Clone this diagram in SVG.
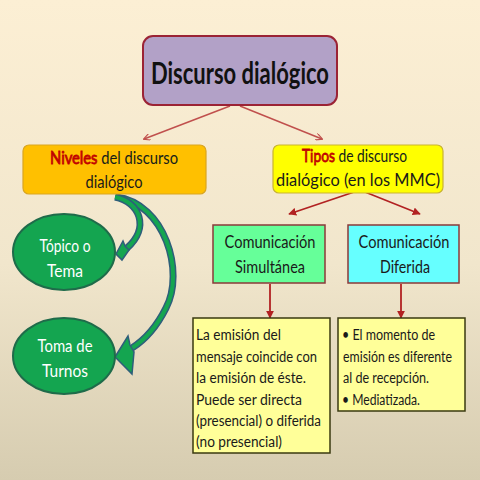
<svg xmlns="http://www.w3.org/2000/svg" width="480" height="480" viewBox="0 0 480 480">
<defs>
<linearGradient id="bg" x1="0" y1="0" x2="0" y2="1">
<stop offset="0" stop-color="#fcefd4"/>
<stop offset="0.55" stop-color="#f1e6cc"/>
<stop offset="1" stop-color="#d6ccb0"/>
</linearGradient>
<linearGradient id="fNiv" gradientUnits="userSpaceOnUse" x1="50" y1="0" x2="178" y2="0">
<stop offset="0.375" stop-color="#c00000"/>
<stop offset="0.375" stop-color="#1a1a1a"/>
</linearGradient>
<linearGradient id="sNiv" gradientUnits="userSpaceOnUse" x1="50" y1="0" x2="178" y2="0">
<stop offset="0.375" stop-color="#c00000" stop-opacity="1"/>
<stop offset="0.375" stop-color="#c00000" stop-opacity="0"/>
</linearGradient>
<linearGradient id="fTip" gradientUnits="userSpaceOnUse" x1="302" y1="0" x2="407" y2="0">
<stop offset="0.32" stop-color="#c00000"/>
<stop offset="0.32" stop-color="#1a1a1a"/>
</linearGradient>
<linearGradient id="sTip" gradientUnits="userSpaceOnUse" x1="302" y1="0" x2="407" y2="0">
<stop offset="0.32" stop-color="#c00000" stop-opacity="1"/>
<stop offset="0.32" stop-color="#c00000" stop-opacity="0"/>
</linearGradient>
<marker id="ah" viewBox="0 0 10 10" refX="9" refY="5" markerWidth="7" markerHeight="7" orient="auto" markerUnits="userSpaceOnUse">
<path d="M0,0 L10,5 L0,10" fill="none" stroke="#c0504d" stroke-width="1.6"/>
</marker>
<marker id="ah2" viewBox="0 0 10 10" refX="9" refY="5" markerWidth="8" markerHeight="8" orient="auto" markerUnits="userSpaceOnUse">
<path d="M0,0 L10,5 L0,10 z" fill="#b22222"/>
</marker>
<style>
text{font-family:Lato,"Open Sans","Liberation Sans",sans-serif;}
.mid{text-anchor:middle;}
.t15{font-size:18px;fill:#1a1a1a;}
.t14{font-size:15.5px;fill:#1a1a1a;}
.w{font-size:18px;fill:#ffffff;text-anchor:middle;}
.ell{fill:#14a550;stroke:#1f6b4a;stroke-width:2;}
.note{fill:#ffff99;stroke:#3a3a10;stroke-width:1.5;}
.c1{stroke:#c0504d;stroke-width:1.5;fill:none;}
.c2{stroke:#b22222;stroke-width:1.8;fill:none;}
.ca{stroke:#2e5e7a;stroke-width:7;fill:none;stroke-linecap:butt;}
.cb{stroke:#14a550;stroke-width:4;fill:none;stroke-linecap:butt;}
.head{fill:#14a550;stroke:#2e5e7a;stroke-width:1.5;stroke-linejoin:miter;}
</style>
</defs>
<rect width="480" height="480" fill="url(#bg)"/>

<g id="connectors">
<line class="c1" x1="230" y1="106" x2="144" y2="139" marker-end="url(#ah)"/>
<line class="c1" x1="240" y1="106" x2="322" y2="139" marker-end="url(#ah)"/>
<line class="c2" x1="360" y1="190" x2="289" y2="214" marker-end="url(#ah2)"/>
<line class="c2" x1="360" y1="190" x2="420" y2="214" marker-end="url(#ah2)"/>
<line class="c2" x1="270" y1="284" x2="270" y2="318" marker-end="url(#ah2)"/>
<line class="c2" x1="401" y1="284" x2="401" y2="318" marker-end="url(#ah2)"/>
<path class="ca" d="M116,197 C165,203 185,272 166,308 C156,328 143,341 132,348"/>
<path class="cb" d="M116,197 C165,203 185,272 166,308 C156,328 143,341 132,348"/>
<polygon class="head" points="115,357 128,336 130,345 134,352 132,374"/>
<path class="ca" d="M115,197 C140,202 150,228 127,248"/>
<path class="cb" d="M115,197 C140,202 150,228 127,248"/>
<polygon class="head" points="116,254 123,241 125,246 129,250 122,260"/>
</g>

<g id="title">
<rect x="143" y="36" width="194" height="69" rx="10" fill="#b2a1c7" stroke="#9b2335" stroke-width="2"/>
<text x="240" y="84" class="mid" font-size="31" font-weight="bold" fill="#111" textLength="178" lengthAdjust="spacingAndGlyphs">Discurso dialógico</text>
</g>

<g id="niveles">
<rect x="23" y="145" width="183" height="49" rx="6" fill="#ffc000" stroke="#d9a520" stroke-width="1.2"/>
<text x="50" y="164" font-size="18" fill="url(#fNiv)" stroke="url(#sNiv)" stroke-width="0.8" textLength="128" lengthAdjust="spacingAndGlyphs">Niveles del discurso</text>
<text x="114" y="188" class="mid t15" textLength="57" lengthAdjust="spacingAndGlyphs">dialógico</text>
</g>

<g id="tipos">
<rect x="273" y="145" width="170" height="48" rx="6" fill="#ffff00" stroke="#c9b430" stroke-width="1.2"/>
<text x="302" y="162" font-size="18" fill="url(#fTip)" stroke="url(#sTip)" stroke-width="0.8" textLength="105" lengthAdjust="spacingAndGlyphs">Tipos de discurso</text>
<text x="358" y="186" class="mid t15" textLength="164" lengthAdjust="spacingAndGlyphs">dialógico (en los MMC)</text>
</g>

<g id="simultanea">
<rect x="213" y="225" width="112" height="58" fill="#66ff99" stroke="#8b3a3a" stroke-width="1.5"/>
<text x="270" y="248" class="mid t15" textLength="91" lengthAdjust="spacingAndGlyphs">Comunicación</text>
<text x="270" y="273" class="mid t15" textLength="70" lengthAdjust="spacingAndGlyphs">Simultánea</text>
</g>

<g id="diferida">
<rect x="348" y="225" width="111" height="58" fill="#66ffff" stroke="#8b3a3a" stroke-width="1.5"/>
<text x="404" y="248" class="mid t15" textLength="91" lengthAdjust="spacingAndGlyphs">Comunicación</text>
<text x="405" y="273" class="mid t15" textLength="50" lengthAdjust="spacingAndGlyphs">Diferida</text>
</g>

<g id="nota1">
<rect x="193" y="318" width="137" height="135" class="note"/>
<text class="t14" x="196" y="340" textLength="85" lengthAdjust="spacingAndGlyphs">La emisión del</text>
<text class="t14" x="196" y="362" textLength="121" lengthAdjust="spacingAndGlyphs">mensaje coincide con</text>
<text class="t14" x="196" y="383" textLength="110" lengthAdjust="spacingAndGlyphs">la emisión de éste.</text>
<text class="t14" x="196" y="405" textLength="106" lengthAdjust="spacingAndGlyphs">Puede ser directa</text>
<text class="t14" x="196" y="426" textLength="125" lengthAdjust="spacingAndGlyphs">(presencial) o diferida</text>
<text class="t14" x="196" y="447" textLength="86" lengthAdjust="spacingAndGlyphs">(no presencial)</text>
</g>

<g id="nota2">
<rect x="338" y="318" width="127" height="93" class="note"/>
<text class="t14" x="342" y="340" textLength="93" lengthAdjust="spacingAndGlyphs">• El momento de</text>
<text class="t14" x="343" y="362" textLength="109" lengthAdjust="spacingAndGlyphs">emisión es diferente</text>
<text class="t14" x="343" y="383" textLength="86" lengthAdjust="spacingAndGlyphs">al de recepción.</text>
<text class="t14" x="342" y="405" textLength="78" lengthAdjust="spacingAndGlyphs">• Mediatizada.</text>
</g>

<g id="topico">
<ellipse cx="64" cy="252" rx="51" ry="38" class="ell"/>
<text x="65" y="252" class="w" textLength="51" lengthAdjust="spacingAndGlyphs">Tópico o</text>
<text x="65" y="277" class="w" textLength="36" lengthAdjust="spacingAndGlyphs">Tema</text>
</g>

<g id="toma">
<ellipse cx="64" cy="356" rx="51" ry="38" class="ell"/>
<text x="65" y="352" class="w" textLength="55" lengthAdjust="spacingAndGlyphs">Toma de</text>
<text x="65" y="377" class="w" textLength="46" lengthAdjust="spacingAndGlyphs">Turnos</text>
</g>
</svg>
